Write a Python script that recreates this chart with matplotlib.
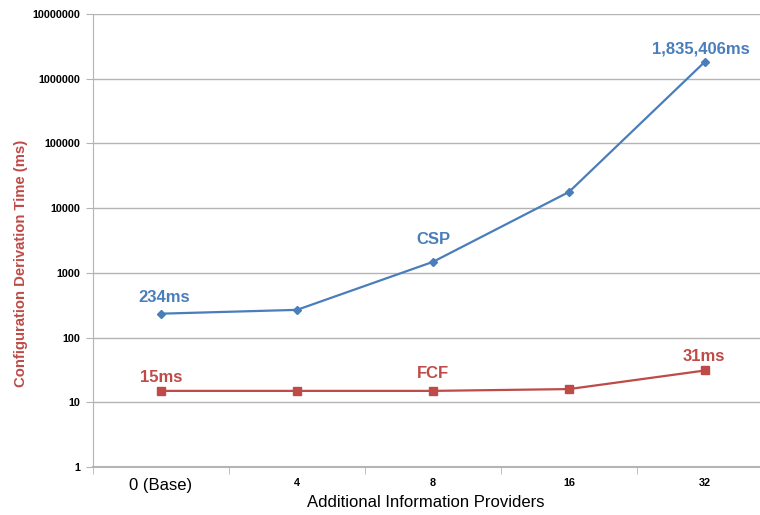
import numpy as np
import matplotlib
matplotlib.use("Agg")
import matplotlib.pyplot as plt
from matplotlib.ticker import FixedLocator, NullFormatter

plt.rcParams['font.family'] = ['Liberation Sans', 'DejaVu Sans']

providers = ["0 (Base)", "4", "8", "16", "32"]
csp_ms = [234, 268, 1480, 17800, 1835406]
fcf_ms = [15, 15, 15, 16, 31]
y_ticks = [1, 10, 100, 1000, 10000, 100000, 1000000, 10000000]

blue = "#4a7ebb"
red = "#be4b48"
grid_gray = "#b4b4b4"

fig = plt.figure(figsize=(7.6, 5.15), dpi=100)
ax = fig.add_axes([93 / 760, 48 / 515, 680 / 760, 453 / 515])

x = np.arange(len(providers))
ax.plot(x, csp_ms, color=blue, lw=1.6, marker="D", ms=4, zorder=3)
ax.plot(x, fcf_ms, color=red, lw=1.6, marker="s", ms=5.5, zorder=3)

ax.set_yscale("log")
ax.set_ylim(1, 1e7)
ax.set_xlim(-0.5, len(providers) - 0.5)
ax.yaxis.set_major_locator(FixedLocator(y_ticks))
ax.yaxis.set_minor_locator(FixedLocator([]))
ax.set_yticklabels([str(v) for v in y_ticks], fontsize=7.8, fontweight="bold")
ax.grid(axis="y", color=grid_gray, lw=1)
ax.set_axisbelow(True)

# category labels in the middle, tick marks between categories
ax.set_xticks(x)
ax.set_xticklabels(providers)
ax.tick_params(axis="x", which="major", length=0, pad=8)
ax.xaxis.set_minor_locator(FixedLocator(np.arange(-0.5, len(providers), 1)))
ax.xaxis.set_minor_formatter(NullFormatter())
ax.tick_params(axis="x", which="minor", length=5, color=grid_gray)
ax.tick_params(axis="y", length=5, color=grid_gray, pad=4)
for i, lab in enumerate(ax.get_xticklabels()):
    if i == 0:
        lab.set_fontsize(12)
    else:
        lab.set_fontsize(7.8)
        lab.set_fontweight("bold")

for side in ["top", "right"]:
    ax.spines[side].set_visible(False)
ax.spines["left"].set_color(grid_gray)
ax.spines["bottom"].set_color(grid_gray)
ax.spines["bottom"].set_linewidth(1.5)

ax.set_xlabel("Additional Information Providers", fontsize=12, labelpad=1)
ax.xaxis.set_label_coords(0.49, -0.062)
ax.set_ylabel("Configuration Derivation Time (ms)", fontsize=10.7,
              fontweight="bold", color=red)
ax.yaxis.set_label_coords(-0.095, 0.45)

lbl = dict(fontsize=12, fontweight="bold", ha="center", va="bottom")
ax.annotate("234ms", (0, csp_ms[0]), xytext=(2, 6), textcoords="offset points", color=blue, **lbl)
ax.annotate("CSP", (2, csp_ms[2]), xytext=(0, 11), textcoords="offset points", color=blue, **lbl)
ax.annotate(f"{csp_ms[4]:,}ms", (4, csp_ms[4]), xytext=(-3, 4), textcoords="offset points", color=blue, **lbl)
ax.annotate(f"{fcf_ms[0]}ms", (0, fcf_ms[0]), xytext=(0, 4), textcoords="offset points", color=red, **lbl)
ax.annotate("FCF", (2, fcf_ms[2]), xytext=(0, 7), textcoords="offset points", color=red, **lbl)
ax.annotate(f"{fcf_ms[4]}ms", (4, fcf_ms[4]), xytext=(-1, 5), textcoords="offset points", color=red, **lbl)

fig.savefig("out.png", dpi=100)
